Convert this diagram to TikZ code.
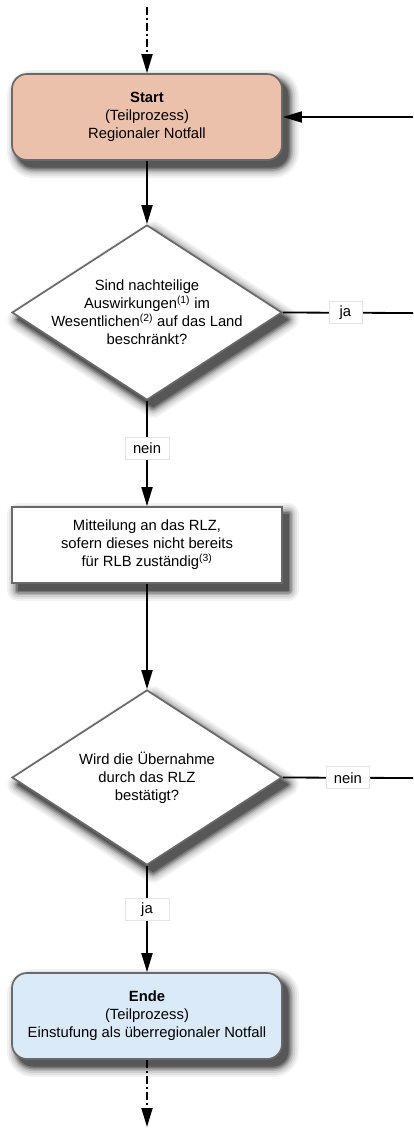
\documentclass[tikz,border=0pt]{standalone}
\usepackage{fontspec}
\setmainfont{Liberation Sans}
\usetikzlibrary{arrows.meta,shapes.geometric}
\definecolor{startfill}{RGB}{235,193,171}
\definecolor{endfill}{RGB}{218,234,248}
\definecolor{edgegray}{RGB}{105,105,105}
\definecolor{tagborder}{RGB}{228,228,228}

\begin{document}
\begin{tikzpicture}[x=1pt,y=-1pt,
  font=\fontsize{14.8}{18}\selectfont,
  % soft shadow built from stacked grey halos, offset to the lower right
  halo/.style 2 args={preaction={draw=black!#1,fill=black!#1,line width=#2,line join=round,
      transform canvas={xshift=6pt,yshift=-7pt}}},
  boxshadow/.style={halo={5}{22pt},halo={11}{18pt},halo={19}{14pt},halo={29}{10pt},
      halo={41}{7pt},halo={54}{4pt},halo={66}{1pt}},
  terminal/.style={draw=edgegray,line width=1.7pt,rounded corners=15pt,minimum width=270pt,minimum height=86pt,align=center,inner sep=0pt,boxshadow},
  process/.style={draw=edgegray,line width=1.7pt,fill=white,minimum width=270pt,minimum height=76pt,align=center,inner sep=0pt,boxshadow},
  decision/.style={diamond,draw=edgegray,line width=1.7pt,fill=white,minimum width=270pt,minimum height=175pt,inner sep=0pt,boxshadow},
  qtext/.style={align=center,inner sep=0pt},
  tag/.style={draw=tagborder,fill=white,line width=0.6pt,inner sep=0pt,minimum height=22pt,minimum width=33pt},
  line/.style={line width=1.8pt},
  flow/.style={line,-{Triangle[length=19pt,width=11pt]}},
  dashdot/.style={dash pattern=on 8pt off 3pt on 2pt off 3pt}]

\useasboundingbox (0,0) rectangle (413,1128);

% free ends of the connectors
\coordinate (inTop) at (147,7);
\coordinate (outBot) at (147,1127);
\coordinate (rightIn) at (413,117);
\coordinate (rightJa) at (413,313);
\coordinate (rightNein) at (413,778);

% nodes
\node[terminal,fill=startfill] (start) at (147,117)
  {\textbf{Start}\\(Teilprozess)\\Regionaler Notfall};
\node[decision] (q1) at (147,312.5) {};
\node[qtext] (q1text) at (q1.center)
  {Sind nachteilige\\Auswirkungen\textsuperscript{(1)} im\\Wesentlichen\textsuperscript{(2)} auf das Land\\beschränkt?};
\node[process] (msg) at (147,545)
  {Mitteilung an das RLZ,\\sofern dieses nicht bereits\\für RLB zuständig\textsuperscript{(3)}};
\node[decision] (q2) at (147,777.5) {};
\node[qtext] (q2text) at (q2.center)
  {Wird die Übernahme\\durch das RLZ\\bestätigt?};
\node[terminal,fill=endfill] (end) at (147,1016)
  {\textbf{Ende}\\(Teilprozess)\\Einstufung als überregionaler Notfall};

% connectors
\draw[flow,dashdot] (inTop) -- (start.north);
\draw[flow] (rightIn) -- (start.east);
\draw[flow] (start.south) -- (q1.north);
\draw[line] (q1.east) -- node[tag,pos=0.48] (tagJa1) {ja} (rightJa);
\draw[flow] (q1.south) -- node[tag,pos=0.45,minimum width=44pt] (tagNein1) {nein} (msg.north);
\draw[flow] (msg.south) -- (q2.north);
\draw[line] (q2.east) -- node[tag,pos=0.5,minimum width=43pt] (tagNein2) {nein} (rightNein);
\draw[flow] (q2.south) -- node[tag,pos=0.41,minimum width=44pt] (tagJa2) {ja} (end.north);
\draw[flow,dashdot] (end.south) -- (outBot);
\end{tikzpicture}
\end{document}
